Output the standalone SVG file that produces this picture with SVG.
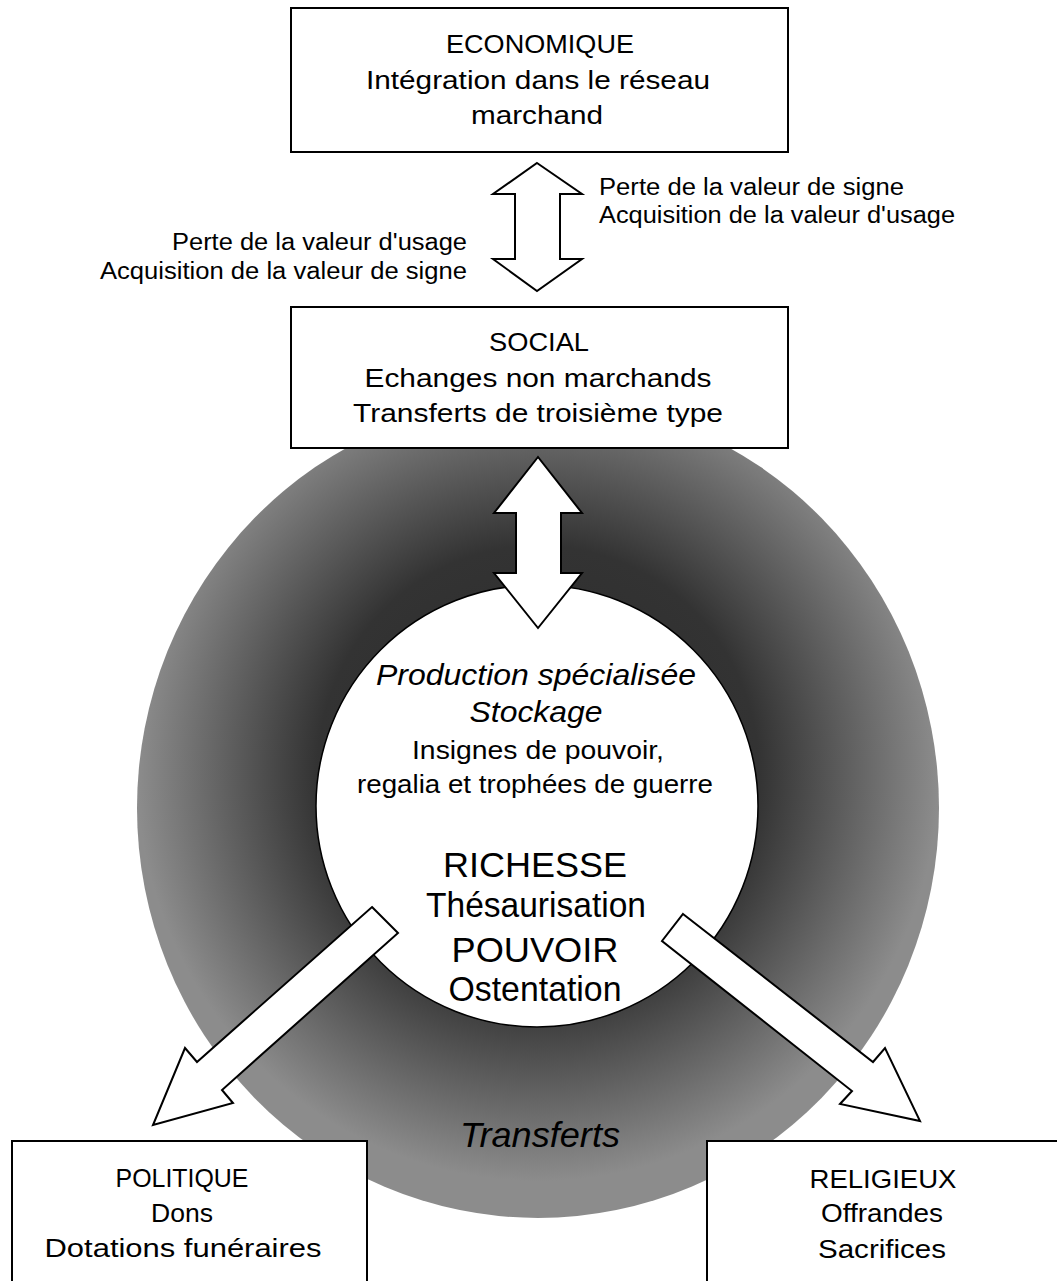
<svg xmlns="http://www.w3.org/2000/svg" width="1057" height="1281" viewBox="0 0 1057 1281">
<defs>
<radialGradient id="ring" cx="0.5" cy="0.455" r="0.5">
<stop offset="0" stop-color="#2a2a2a"/>
<stop offset="0.55" stop-color="#333333"/>
<stop offset="1" stop-color="#8c8c8c"/>
</radialGradient>
</defs>
<style>
text{font-family:"Liberation Sans",Arial,Helvetica,sans-serif;fill:#000;text-anchor:middle}
.bx{font-size:26.5px}
.lb{font-size:23px}
.it{font-style:italic}
.box{fill:#fff;stroke:#000;stroke-width:2}
.arr{fill:#fff;stroke:#000;stroke-width:2;stroke-linejoin:miter}
</style>
<rect width="1057" height="1281" fill="#fff"/>
<g id="ring-shape">
<ellipse cx="538" cy="808" rx="401" ry="410" fill="url(#ring)"/>
<text class="it" x="540" y="1147" font-size="35" textLength="160" lengthAdjust="spacingAndGlyphs">Transferts</text>
</g>
<g id="richesse">
<circle cx="537" cy="806" r="221" fill="#fff" stroke="#000" stroke-width="1.5"/>
<text class="it" x="536" y="685" font-size="29.5" textLength="320" lengthAdjust="spacingAndGlyphs">Production spécialisée</text>
<text class="it" x="536" y="722" font-size="29.5" textLength="133" lengthAdjust="spacingAndGlyphs">Stockage</text>
<text x="538" y="759" font-size="26" textLength="252" lengthAdjust="spacingAndGlyphs">Insignes de pouvoir,</text>
<text x="535" y="793" font-size="26" textLength="356" lengthAdjust="spacingAndGlyphs">regalia et trophées de guerre</text>
<text x="535" y="877" font-size="35" textLength="184" lengthAdjust="spacingAndGlyphs">RICHESSE</text>
<text x="536" y="917" font-size="35" textLength="220" lengthAdjust="spacingAndGlyphs">Thésaurisation</text>
<text x="535" y="962" font-size="35" textLength="167" lengthAdjust="spacingAndGlyphs">POUVOIR</text>
<text x="535" y="1001" font-size="35" textLength="173" lengthAdjust="spacingAndGlyphs">Ostentation</text>
</g>
<g id="economique">
<rect class="box" x="291" y="8" width="497" height="144"/>
<text class="bx" x="540" y="53" textLength="188" lengthAdjust="spacingAndGlyphs">ECONOMIQUE</text>
<text class="bx" x="538" y="89" textLength="344" lengthAdjust="spacingAndGlyphs">Intégration dans le réseau</text>
<text class="bx" x="537" y="124" textLength="132" lengthAdjust="spacingAndGlyphs">marchand</text>
</g>
<g id="social">
<rect class="box" x="291" y="307" width="497" height="141"/>
<text class="bx" x="539" y="351" textLength="100" lengthAdjust="spacingAndGlyphs">SOCIAL</text>
<text class="bx" x="538" y="387" textLength="347" lengthAdjust="spacingAndGlyphs">Echanges non marchands</text>
<text class="bx" x="538" y="422" textLength="370" lengthAdjust="spacingAndGlyphs">Transferts de troisième type</text>
</g>
<g id="politique">
<rect class="box" x="12" y="1141" width="355" height="160"/>
<text class="bx" x="182" y="1187" textLength="133" lengthAdjust="spacingAndGlyphs">POLITIQUE</text>
<text class="bx" x="182" y="1222" textLength="62" lengthAdjust="spacingAndGlyphs">Dons</text>
<text class="bx" x="183" y="1257" textLength="277" lengthAdjust="spacingAndGlyphs">Dotations funéraires</text>
</g>
<g id="religieux">
<rect class="box" x="707" y="1141" width="360" height="160"/>
<text class="bx" x="883" y="1188" textLength="147" lengthAdjust="spacingAndGlyphs">RELIGIEUX</text>
<text class="bx" x="882" y="1222" textLength="122" lengthAdjust="spacingAndGlyphs">Offrandes</text>
<text class="bx" x="882" y="1258" textLength="128" lengthAdjust="spacingAndGlyphs">Sacrifices</text>
</g>
<g id="connectors">
<polygon class="arr" points="537,163 582,194 560,194 560,259 582,259 537,291 493,259 515,259 515,194 493,194"/>
<polygon class="arr" points="538,457 582,513 561,513 561,573 582,573 538,628 494,573 516,573 516,513 494,513"/>
<polygon class="arr" points="372,907 398,933 222,1090 233,1103 153,1125 185,1048 197,1062"/>
<polygon class="arr" points="683,914 873,1062 885,1048 920,1121 840,1104 852,1091 662,941"/>
<text class="lb" x="599" y="195" style="text-anchor:start" textLength="305" lengthAdjust="spacingAndGlyphs">Perte de la valeur de signe</text>
<text class="lb" x="599" y="223" style="text-anchor:start" textLength="356" lengthAdjust="spacingAndGlyphs">Acquisition de la valeur d'usage</text>
<text class="lb" x="467" y="250" style="text-anchor:end" textLength="295" lengthAdjust="spacingAndGlyphs">Perte de la valeur d'usage</text>
<text class="lb" x="467" y="279" style="text-anchor:end" textLength="367" lengthAdjust="spacingAndGlyphs">Acquisition de la valeur de signe</text>
</g>
</svg>
